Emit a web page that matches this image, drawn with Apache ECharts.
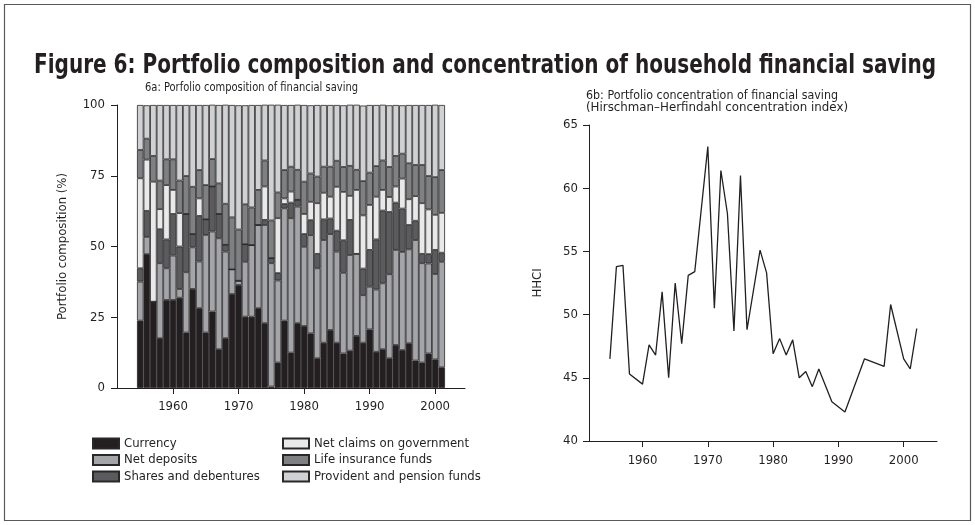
<!DOCTYPE html>
<html>
<head>
<meta charset="utf-8">
<script src="https://cdn.jsdelivr.net/npm/echarts@6/dist/echarts.min.js"></script>
<style>
html, body { margin: 0; padding: 0; background: #fff; }
#chart { width: 975px; height: 525px; }
</style>
</head>
<body>
<div id="chart"></div>
<script>
// 6a: portfolio composition, one bar per year (shares in %)
var barYears = ['1955', '1956', '1957', '1958', '1959', '1960', '1961', '1962', '1963', '1964',
                '1965', '1966', '1967', '1968', '1969', '1970', '1971', '1972', '1973', '1974',
                '1975', '1976', '1977', '1978', '1979', '1980', '1981', '1982', '1983', '1984',
                '1985', '1986', '1987', '1988', '1989', '1990', '1991', '1992', '1993', '1994',
                '1995', '1996', '1997', '1998', '1999', '2000', '2001'];
var currency = [23.8, 47.3, 30.5, 17.6, 31.1, 31.1, 31.9, 19.6, 35.0, 28.2,
                19.6, 27.0, 13.7, 17.6, 33.2, 36.4, 25.2, 25.2, 28.2, 22.9,
                0.5, 9.0, 23.8, 12.5, 22.9, 21.9, 19.3, 10.5, 16.0, 20.5,
                16.0, 12.2, 13.2, 18.4, 16.0, 20.7, 12.8, 13.7, 10.5, 15.2,
                13.4, 15.8, 9.7, 9.0, 12.2, 10.1, 7.3];
var netDeposits = [13.8, 6.1, 0, 26.5, 11.2, 15.7, 3.1, 21.3, 14.7, 16.5,
                   34.5, 28.3, 39.2, 30.6, 8.7, 1.5, 19.4, 25.3, 29.4, 34.7,
                   43.6, 29.0, 39.7, 47.5, 41.2, 28.0, 34.7, 31.8, 36.3, 33.9,
                   32.2, 28.5, 33.8, 29.0, 16.8, 15.1, 22.0, 23.3, 29.7, 33.6,
                   34.7, 33.2, 42.6, 35.1, 31.8, 30.2, 37.3];
var shares = [4.7, 9.2, 0, 12.0, 10.2, 14.7, 15.0, 20.6, 4.7, 16.1,
              5.5, 15.9, 8.6, 2.4, 0, 0, 6.2, 0, 0, 1.8,
              1.8, 2.6, 1.5, 5.5, 2.4, 4.5, 5.3, 5.1, 7.3, 5.5,
              7.4, 11.5, 12.4, 0, 9.4, 13.0, 17.7, 25.7, 22.0, 16.7,
              15.3, 8.6, 6.8, 3.3, 3.3, 8.5, 3.2];
var netClaims = [31.8, 18.1, 42.4, 7.1, 19.2, 8.5, 11.8, 0, 0, 6.2,
                 0, 0, 0, 0, 0, 0, 0, 0, 0, 11.8,
                 0, 19.4, 2.0, 3.9, 0, 7.1, 6.5, 17.9, 9.4, 7.7,
                 15.5, 17.1, 8.5, 22.6, 18.8, 15.9, 15.1, 7.3, 5.3, 5.7,
                 10.6, 9.1, 8.7, 17.9, 15.8, 12.4, 14.1];
var lifeInsurance = [10.0, 7.4, 9.1, 10.1, 9.1, 10.8, 11.5, 13.4, 16.7, 10.0,
                     12.1, 9.7, 10.8, 14.5, 18.4, 18.1, 14.1, 13.3, 12.4, 9.2,
                     13.3, 9.1, 10.0, 8.8, 10.6, 11.4, 10.0, 9.4, 9.2, 10.6,
                     9.2, 8.8, 10.6, 7.1, 12.1, 11.4, 10.8, 10.4, 10.6, 10.8,
                     8.8, 12.7, 11.0, 13.5, 11.8, 13.3, 15.1];
var provident = [15.9, 11.8, 18.0, 26.7, 19.2, 19.2, 26.7, 25.1, 28.9, 23.0,
                 28.3, 19.2, 27.7, 35.0, 39.7, 43.9, 35.0, 36.2, 30.0, 19.7,
                 40.9, 31.0, 23.0, 21.8, 23.0, 27.1, 24.1, 25.3, 21.8, 21.8,
                 19.7, 21.8, 21.6, 23.0, 26.7, 23.9, 21.6, 19.7, 21.8, 18.0,
                 17.1, 20.6, 21.2, 21.2, 25.1, 25.6, 23.0];

// 6b: Hirschman-Herfindahl concentration index
var hhciYears = [1955, 1956, 1957, 1958, 1960, 1961, 1962, 1963, 1964, 1965,
                 1966, 1967, 1968, 1970, 1971, 1972, 1973, 1974, 1975, 1976,
                 1978, 1979, 1980, 1981, 1982, 1983, 1984, 1985, 1986, 1987,
                 1989, 1991, 1994, 1997, 1998, 2000, 2001, 2002];
var hhciValues = [46.5, 53.8, 53.9, 45.3, 44.5, 47.6, 46.8, 51.8, 45.0, 52.5,
                  47.7, 53.1, 53.4, 63.3, 50.5, 61.4, 58.0, 48.7, 61.0, 48.8,
                  55.1, 53.3, 46.9, 48.1, 46.8, 48.0, 45.0, 45.5, 44.3, 45.7,
                  43.1, 42.3, 46.5, 45.9, 50.8, 46.5, 45.7, 48.9];

var tickYears = [1960, 1970, 1980, 1990, 2000];

var INK = '#231f20';
var FONT = '"DejaVu Sans Condensed", "DejaVu Sans", sans-serif';

var parts = [
    { name: 'Currency', values: currency, color: '#231f20' },
    { name: 'Net deposits', values: netDeposits, color: '#a4a5a8' },
    { name: 'Shares and debentures', values: shares, color: '#5b5b5d' },
    { name: 'Net claims on government', values: netClaims, color: '#e9e9ea' },
    { name: 'Life insurance funds', values: lifeInsurance, color: '#7f8082' },
    { name: 'Provident and pension funds', values: provident, color: '#d0d1d3' }
];

// squeeze a text horizontally so it spans the width seen in the picture
var measureCtx = document.createElement('canvas').getContext('2d');
function squeezed(text, font, width) {
    measureCtx.font = font;
    return width / measureCtx.measureText(text).width;
}
function headText(text, x, y, font, width) {
    return {
        type: 'text', x: x, y: y, scaleX: squeezed(text, font, width),
        style: { text: text, font: font, fill: INK, verticalAlign: 'middle' }
    };
}

var titleFont = 'bold 27px "DejaVu Sans Condensed", sans-serif';
var subFont = '13px "DejaVu Sans Condensed", sans-serif';

var barSeries = parts.map(function (p) {
    return {
        name: p.name,
        type: 'bar',
        stack: 'portfolio',
        xAxisIndex: 0,
        yAxisIndex: 0,
        barCategoryGap: 0,
        itemStyle: { color: p.color, borderColor: '#2a2728', borderWidth: 0.8 },
        data: p.values
    };
});

var axisText = { fontFamily: FONT, fontSize: 13, color: INK };
function plain(v) { return String(v); }

function yearAxis(grid, min, max, margin) {
    return {
        type: 'value', gridIndex: grid, min: min, max: max,
        axisLine: { show: true, lineStyle: { color: INK, width: 1 } },
        axisTick: { show: true, customValues: tickYears, length: 6, lineStyle: { color: INK } },
        axisLabel: Object.assign({ customValues: tickYears, margin: margin, formatter: plain }, axisText),
        splitLine: { show: false }
    };
}

var option = {
    animation: false,
    backgroundColor: '#ffffff',
    textStyle: { fontFamily: FONT, color: INK },
    graphic: [
        {
            type: 'rect',
            shape: { x: 4.5, y: 4.5, width: 966, height: 516 },
            style: { fill: 'none', stroke: '#5a5a5a', lineWidth: 1.2 }
        },
        headText('Figure 6: Portfolio composition and concentration of household financial saving',
                 34, 66, titleFont, 902),
        headText('6a: Porfolio composition of financial saving', 145, 88, subFont, 213),
        headText('6b: Portfolio concentration of financial saving', 586, 96, subFont, 252),
        headText('(Hirschman\u2013Herfindahl concentration index)', 586, 108, subFont, 262)
    ],
    legend: [
        {
            orient: 'vertical', left: 87, top: 432,
            itemWidth: 26, itemHeight: 10, itemGap: 3.5, icon: 'rect',
            textStyle: { fontFamily: FONT, fontSize: 13, color: INK },
            data: ['Currency', 'Net deposits', 'Shares and debentures']
        },
        {
            orient: 'vertical', left: 277, top: 432,
            itemWidth: 26, itemHeight: 10, itemGap: 3.5, icon: 'rect',
            textStyle: { fontFamily: FONT, fontSize: 13, color: INK },
            data: ['Net claims on government', 'Life insurance funds', 'Provident and pension funds']
        }
    ],
    grid: [
        { left: 137, top: 105, width: 308, height: 283 },   // bars
        { left: 589, top: 125, width: 348, height: 316 },   // HHCI line
        { left: 117, top: 105, width: 348, height: 283 }    // axes of 6a
    ],
    xAxis: [
        { type: 'category', gridIndex: 0, data: barYears, show: false },
        yearAxis(1, 1951.8, 2005.1, 13),
        yearAxis(2, 1951.45, 2004.55, 12)
    ],
    yAxis: [
        { type: 'value', gridIndex: 0, min: 0, max: 100, show: false },
        {
            type: 'value', gridIndex: 1, min: 40, max: 65, interval: 5,
            name: 'HHCI', nameLocation: 'middle', nameGap: 45,
            nameTextStyle: { fontFamily: FONT, fontSize: 13, color: INK },
            axisLine: { show: true, lineStyle: { color: INK } },
            axisTick: { show: true, length: 6, lineStyle: { color: INK } },
            axisLabel: Object.assign({ margin: 11 }, axisText),
            splitLine: { show: false }
        },
        {
            type: 'value', gridIndex: 2, min: 0, max: 100, interval: 25,
            name: 'Portfolio composition (%)', nameLocation: 'middle', nameGap: 48,
            nameTextStyle: { fontFamily: FONT, fontSize: 13, color: INK },
            axisLine: { show: true, lineStyle: { color: INK } },
            axisTick: { show: true, length: 6, lineStyle: { color: INK } },
            axisLabel: Object.assign({ margin: 12 }, axisText),
            splitLine: { show: false }
        }
    ],
    series: barSeries.concat([{
        name: 'HHCI',
        type: 'line',
        xAxisIndex: 1,
        yAxisIndex: 1,
        showSymbol: false,
        lineStyle: { color: INK, width: 1.3 },
        data: hhciYears.map(function (y, i) { return [y, hhciValues[i]]; })
    }])
};

var chart = echarts.init(document.getElementById('chart'));
chart.setOption(option);
</script>
</body>
</html>
